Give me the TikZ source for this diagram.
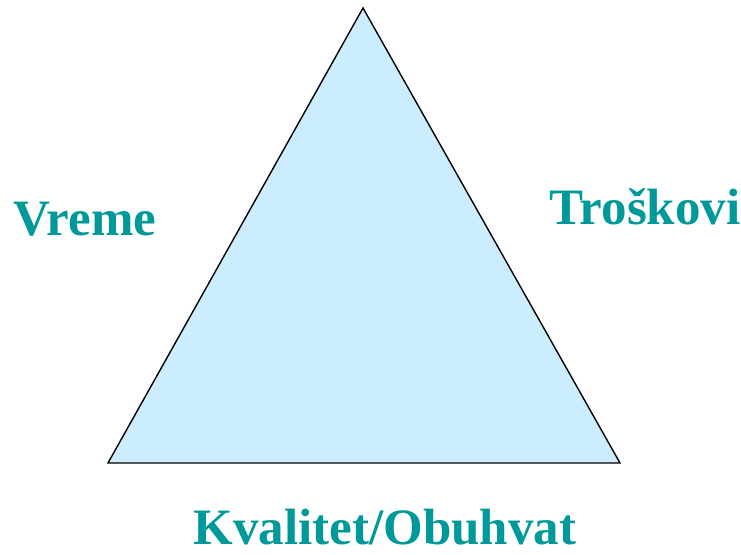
\documentclass[tikz,border=0pt]{standalone}
\usepackage{fontspec}
\setmainfont{Liberation Serif}
\definecolor{lbl}{HTML}{009999}
\definecolor{tri}{HTML}{CCECFF}
\begin{document}
\begin{tikzpicture}[x=1pt,y=1pt,
  lab/.style={text=lbl,font=\fontsize{51}{58}\selectfont\bfseries,anchor=base,inner sep=0pt}]
\useasboundingbox (0,0) rectangle (741,554);
\coordinate (A) at (363,546);
\coordinate (B) at (108,91);
\coordinate (C) at (620,91);
\filldraw[fill=tri,draw=black,line width=1.4pt,line join=miter] (A) -- (B) -- (C) -- cycle;
\node[lab] (v) at (85,318) {Vreme};
\node[lab] (t) at (645,329) {Troškovi};
\node[lab] (k) at (385,10) {Kvalitet/Obuhvat};
\end{tikzpicture}
\end{document}
